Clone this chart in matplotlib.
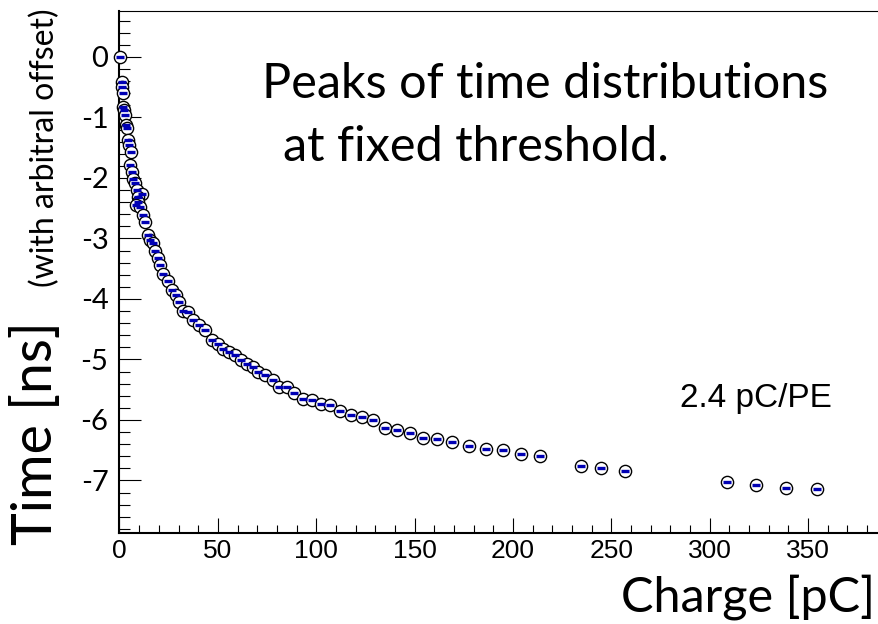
import matplotlib
matplotlib.use("Agg")
import matplotlib.pyplot as plt
from matplotlib.ticker import MultipleLocator, FixedLocator

# ---- data ----
charge_pc = [0.3, 1.1, 1.4, 1.9, 1.9, 2.4, 2.8, 3.1, 3.7, 4.5, 5.0, 5.8, 5.3, 6.2,
             7.0, 7.9, 8.7, 11.3, 9.6, 9.2, 8.2, 10.4, 12.1, 13.0, 14.6, 15.5,
             17.2, 18.0, 19.7, 20.6, 22.3, 24.8, 26.5, 28.7, 30.4, 32.4, 35.0,
             37.5, 40.6, 43.5, 46.9, 50.2, 52.8, 55.8, 58.7, 61.6, 65.0, 68.0,
             70.6, 74.0, 78.2, 81.2, 85.0, 88.7, 93.1, 97.7, 102.3, 107.0, 112.1,
             117.5, 123.1, 129.0, 135.0, 141.2, 147.7, 154.5, 161.6, 169.2,
             177.7, 186.3, 194.8, 204.0, 213.8, 234.5, 244.9, 257.0, 309.0,
             323.6, 338.8, 354.4]
time_ns = [0.0, -0.41, -0.50, -0.60, -0.83, -0.88, -0.96, -1.13, -1.18, -1.38,
           -1.46, -1.57, -1.79, -1.90, -2.01, -2.09, -2.20, -2.26, -2.31, -2.40,
           -2.45, -2.48, -2.62, -2.73, -2.95, -3.03, -3.08, -3.20, -3.33, -3.44,
           -3.58, -3.70, -3.85, -3.94, -4.05, -4.20, -4.21, -4.35, -4.43, -4.52,
           -4.67, -4.75, -4.82, -4.88, -4.93, -5.01, -5.07, -5.13, -5.21, -5.26,
           -5.34, -5.45, -5.45, -5.55, -5.65, -5.67, -5.74, -5.76, -5.85, -5.91,
           -5.95, -6.00, -6.14, -6.16, -6.21, -6.30, -6.32, -6.37, -6.43, -6.48,
           -6.50, -6.57, -6.59, -6.76, -6.79, -6.84, -7.02, -7.07, -7.12, -7.14]

x_ticks = [0, 50, 100, 150, 200, 250, 300, 350]
y_ticks = [0, -1, -2, -3, -4, -5, -6, -7]
y_tick_labels = ["0", "-1", "-2", "-3", "-4", "-5", "-6", "-7"]

W, H = 879, 624
fig = plt.figure(figsize=(W / 100, H / 100), dpi=100)

left_px, right_px, top_px, bottom_px = 119.5, 886.6, 11.0, 533.3
ax = fig.add_axes([left_px / W, 1 - bottom_px / H,
                   (right_px - left_px) / W, (bottom_px - top_px) / H])
ax.set_xlim(0, 390)
ax.set_ylim(-7.873, 0.76)

ax.plot(charge_pc, time_ns, linestyle="none", marker="o", ms=8.8,
        mfc="white", mec="black", mew=1.0, zorder=3, clip_on=False)
ax.plot(charge_pc, time_ns, linestyle="none", marker="_", ms=5.2,
        mew=2.4, color="#0000b4", zorder=4, clip_on=False)

ax.spines["right"].set_visible(False)
ax.spines["left"].set_linewidth(1.5)
ax.spines["bottom"].set_linewidth(1.5)
ax.spines["top"].set_linewidth(0.8)

ax.xaxis.set_major_locator(FixedLocator(x_ticks))
ax.xaxis.set_minor_locator(MultipleLocator(10))
ax.yaxis.set_major_locator(FixedLocator(y_ticks))
ax.yaxis.set_minor_locator(MultipleLocator(0.2))
ax.set_yticklabels(y_tick_labels)

ax.tick_params(axis="x", which="major", direction="in", length=11, width=0.8,
               top=False, pad=4, labelsize=19)
ax.tick_params(axis="x", which="minor", direction="in", length=5.5, width=0.8,
               top=False)
ax.tick_params(axis="y", which="major", direction="in", length=15.5, width=0.8,
               right=False, pad=8, labelsize=21)
ax.tick_params(axis="y", which="minor", direction="in", length=7.8, width=0.8,
               right=False)
for lab in ax.get_xticklabels():
    lab.set_family("Liberation Sans")
for lab in ax.get_yticklabels():
    lab.set_family("Lato")

# axis titles
fig.text(875 / W, 1 - 612 / H, "Charge [pC]", family="Lato", fontsize=35,
         ha="right", va="baseline")
fig.text(52 / W, 1 - 545 / H, "Time [ns]", family="Lato", fontsize=40,
         rotation=90, rotation_mode="anchor", ha="left", va="baseline")
fig.text(54 / W, 1 - 287 / H, "(with arbitral offset)", family="Lato",
         fontsize=23, rotation=90, rotation_mode="anchor", ha="left",
         va="baseline")

# annotations
fig.text(262 / W, 1 - 98 / H, "Peaks of time distributions", family="Lato",
         fontsize=35, ha="left", va="baseline")
fig.text(283 / W, 1 - 161 / H, "at fixed threshold.", family="Lato",
         fontsize=35, ha="left", va="baseline")
fig.text(680 / W, 1 - 407 / H, "2.4 pC/PE", family="Liberation Sans",
         fontsize=24, ha="left", va="baseline")

fig.savefig("out.png", dpi=100)
